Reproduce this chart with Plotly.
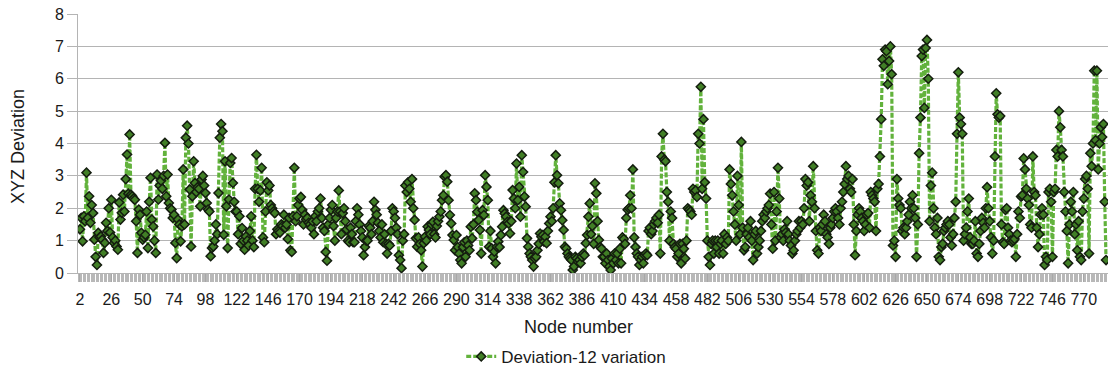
import plotly.graph_objects as go

# ---- data (XYZ deviation per node) ----
first_node = 2

dev_002_025 = [1.35, 1.7, 0.98, 1.75, 1.6, 3.1, 1.7, 2.37, 1.55, 2.1, 1.85, 1.03,
               0.5, 0.25, 1.24, 1.1, 1.13, 1.03, 0.62, 0.93, 1.55, 1.3, 2.0, 1.25]
dev_026_049 = [2.26, 1.1, 0.93, 1.0, 0.82, 0.72, 2.18, 1.65, 1.86, 2.42, 1.9, 2.9,
               3.66, 2.45, 4.28, 2.42, 2.37, 2.3, 2.26, 1.6, 0.62, 1.96, 1.8, 1.24]
dev_050_073 = [1.03, 1.1, 1.18, 1.9, 0.77, 2.2, 2.94, 1.65, 1.44, 1.0, 0.62, 3.04,
               2.27, 2.7, 2.85, 2.6, 3.0, 4.02, 2.37, 3.04, 2.16, 2.0, 1.96, 1.7]
dev_074_097 = [1.8, 0.93, 0.46, 1.65, 1.5, 0.98, 1.44, 3.2, 1.5, 4.18, 4.55, 4.0,
               2.58, 0.82, 2.37, 3.45, 2.78, 2.5, 2.65, 2.6, 2.06, 2.89, 3.0, 2.7]
dev_098_121 = [2.47, 2.16, 1.96, 1.9, 0.52, 0.77, 0.82, 1.0, 1.5, 1.2, 2.47, 4.18,
               4.6, 4.38, 1.18, 3.45, 2.06, 0.77, 2.27, 3.4, 3.55, 2.78, 2.2, 1.9]
dev_122_145 = [1.9, 1.2, 1.75, 0.9, 1.39, 1.0, 0.72, 1.13, 1.0, 0.85, 1.3, 1.75,
               1.0, 0.8, 2.6, 3.65, 2.6, 2.2, 2.55, 3.25, 1.1, 0.95, 1.9, 2.8]
dev_146_169 = [2.55, 2.7, 2.1, 2.0, 1.9, 1.85, 1.2, 1.35, 1.3, 1.25, 1.5, 1.45,
               1.8, 1.4, 1.5, 1.05, 1.7, 0.7, 0.65, 1.75, 3.25, 1.6, 1.75, 2.1]
dev_170_193 = [2.3, 2.35, 1.95, 1.5, 1.8, 1.65, 1.7, 1.55, 1.5, 1.4, 1.6, 1.2,
               1.75, 1.6, 1.9, 2.0, 2.3, 1.7, 1.4, 1.3, 0.65, 0.38, 1.5, 1.7]
dev_194_217 = [1.95, 2.1, 1.45, 1.0, 1.7, 1.9, 2.55, 1.9, 1.2, 1.85, 2.0, 1.6,
               1.35, 1.0, 0.95, 1.4, 1.2, 0.95, 0.95, 1.6, 2.0, 1.8, 1.5, 1.3]
dev_218_241 = [1.1, 0.55, 0.8, 1.0, 1.0, 1.45, 1.4, 1.2, 1.6, 2.2, 1.95, 1.8,
               1.55, 1.3, 1.1, 1.5, 0.95, 1.2, 0.9, 0.6, 0.9, 0.85, 1.3, 2.0]
dev_242_265 = [1.9, 1.7, 1.4, 1.2, 0.55, 0.4, 0.15, 1.0, 1.2, 2.7, 2.5, 2.8,
               2.6, 2.2, 2.9, 2.0, 1.64, 1.07, 0.81, 1.1, 0.9, 0.7, 0.2, 0.92]
dev_266_289 = [1.12, 1.0, 1.43, 1.33, 1.2, 1.5, 1.58, 1.2, 1.1, 1.45, 1.6, 1.74,
               1.9, 2.25, 2.4, 2.97, 3.02, 2.82, 2.25, 1.79, 1.53, 1.17, 1.02, 0.7]
dev_290_313 = [1.17, 0.8, 0.6, 0.4, 0.3, 0.8, 0.95, 0.5, 1.0, 0.85, 0.7, 1.43,
               1.07, 1.5, 2.46, 2.25, 1.89, 1.64, 1.33, 0.6, 1.94, 1.79, 3.02, 2.66]
dev_314_337 = [2.25, 0.81, 1.3, 0.76, 0.5, 0.66, 0.3, 0.81, 0.97, 0.8, 1.17, 1.43,
               1.94, 1.84, 1.74, 1.58, 1.53, 1.22, 1.6, 2.56, 2.3, 2.0, 3.38, 2.25]
dev_338_361 = [2.66, 1.74, 3.64, 3.12, 2.36, 2.05, 1.07, 0.81, 0.6, 0.5, 0.4, 0.2,
               0.45, 0.5, 0.7, 0.9, 1.22, 1.12, 1.17, 0.97, 1.12, 0.92, 1.3, 1.53]
dev_362_385 = [1.74, 1.6, 2.0, 2.8, 3.64, 3.02, 2.77, 2.15, 1.94, 1.63, 1.33, 0.81,
               0.76, 0.6, 0.5, 0.45, 0.4, 0.09, 0.2, 0.5, 0.45, 0.35, 0.4, 0.3]
dev_386_409 = [0.5, 0.6, 0.55, 0.92, 1.17, 1.74, 2.15, 1.2, 1.45, 0.9, 2.77, 2.46,
               1.6, 1.02, 0.8, 0.75, 0.5, 0.5, 0.3, 0.6, 0.4, 0.2, 0.09, 0.45]
dev_410_433 = [0.3, 0.6, 0.4, 0.6, 0.3, 0.75, 0.3, 1.1, 1.05, 0.9, 1.7, 1.95,
               2.0, 2.4, 2.0, 3.2, 1.1, 0.8, 0.6, 0.5, 0.25, 0.4, 0.5, 0.3]
dev_434_457 = [0.55, 0.6, 0.55, 1.3, 1.4, 1.2, 1.3, 1.5, 1.6, 1.7, 1.55, 1.8,
               0.6, 3.6, 4.3, 3.5, 3.45, 2.5, 2.2, 1.0, 1.9, 1.7, 0.9, 0.8]
dev_458_481 = [0.75, 0.5, 0.6, 0.9, 0.3, 0.9, 0.75, 0.45, 1.0, 2.0, 1.95, 1.9,
               1.8, 2.6, 2.5, 2.55, 2.35, 4.3, 4.0, 5.75, 2.6, 4.75, 2.8, 2.3]
dev_482_505 = [1.0, 0.5, 0.25, 0.9, 1.0, 0.6, 1.0, 0.8, 1.0, 0.6, 0.9, 1.0,
               0.6, 1.2, 0.9, 1.1, 1.0, 3.2, 2.75, 2.4, 1.9, 1.5, 1.0, 3.0]
dev_506_529 = [2.1, 1.2, 4.05, 1.4, 0.7, 0.8, 1.2, 1.4, 1.1, 1.6, 1.0, 0.4,
               1.2, 1.3, 0.6, 0.8, 1.0, 1.3, 1.6, 1.8, 1.7, 1.9, 2.0, 2.1]
dev_530_553 = [2.45, 1.5, 0.75, 2.5, 1.0, 1.9, 3.25, 2.3, 1.1, 1.2, 1.0, 1.35,
               1.25, 1.6, 1.2, 1.0, 0.85, 0.6, 0.7, 1.0, 1.2, 1.3, 1.6, 1.4]
dev_554_577 = [1.6, 1.5, 2.0, 2.9, 2.7, 2.8, 1.6, 2.4, 2.2, 3.3, 2.0, 1.3,
               0.7, 0.6, 1.4, 1.3, 1.5, 1.8, 1.6, 1.2, 1.1, 0.9, 1.4, 1.5]
dev_578_601 = [1.7, 1.9, 2.0, 1.9, 1.7, 1.5, 2.0, 2.2, 2.5, 2.75, 3.3, 2.9,
               3.0, 2.6, 2.5, 2.9, 1.5, 0.55, 1.3, 1.8, 2.0, 1.9, 1.7, 1.6]
dev_602_625 = [1.3, 1.5, 1.8, 1.85, 1.4, 2.5, 2.4, 2.3, 2.2, 1.3, 2.6, 2.75,
               3.6, 4.75, 6.6, 6.4, 6.9, 6.85, 5.83, 6.55, 7.0, 6.14, 0.85, 1.0]
dev_626_649 = [0.5, 2.9, 2.3, 2.1, 2.0, 1.3, 1.4, 1.2, 1.4, 1.6, 1.8, 2.2,
               2.0, 2.4, 2.0, 1.7, 0.5, 1.5, 3.7, 4.8, 6.7, 6.9, 5.1, 6.95]
dev_650_673 = [7.2, 6.0, 1.6, 2.7, 3.1, 2.0, 1.4, 1.2, 1.7, 0.5, 0.4, 0.8,
               0.9, 1.3, 1.4, 1.5, 1.6, 1.5, 1.1, 0.85, 1.2, 1.7, 2.2, 4.3]
dev_674_697 = [6.2, 4.8, 4.6, 4.3, 1.0, 1.2, 1.4, 1.9, 2.3, 1.1, 0.9, 0.9,
               1.0, 1.6, 0.6, 0.5, 0.9, 1.3, 1.7, 1.55, 1.4, 2.0, 2.65, 2.0]
dev_698_721 = [1.6, 1.1, 0.6, 1.0, 3.6, 5.55, 4.9, 4.8, 4.85, 1.5, 0.95, 0.9,
               1.95, 2.0, 1.4, 1.2, 1.0, 0.95, 1.0, 1.05, 0.5, 1.2, 1.9, 1.7]
dev_722_745 = [2.36, 2.4, 3.54, 3.2, 2.6, 2.3, 2.1, 1.5, 1.4, 3.6, 2.5, 2.4,
               1.4, 0.8, 1.2, 1.8, 2.0, 1.8, 0.25, 0.5, 0.4, 2.5, 2.6, 2.2]
dev_746_769 = [0.5, 2.5, 2.6, 3.8, 3.6, 5.0, 4.5, 3.8, 3.6, 2.5, 1.9, 1.3,
               0.3, 1.5, 2.2, 1.9, 2.5, 1.2, 1.5, 0.7, 1.6, 0.5, 0.4, 1.9]
dev_770_787 = [2.3, 2.9, 3.0, 2.6, 0.6, 3.7, 3.3, 4.0, 6.25, 4.1, 6.25, 3.2,
               4.0, 4.5, 4.2, 4.6, 2.2, 0.4]

deviation = (dev_002_025 + dev_026_049 + dev_050_073 + dev_074_097 + dev_098_121
             + dev_122_145 + dev_146_169 + dev_170_193 + dev_194_217 + dev_218_241
             + dev_242_265 + dev_266_289 + dev_290_313 + dev_314_337 + dev_338_361
             + dev_362_385 + dev_386_409 + dev_410_433 + dev_434_457 + dev_458_481
             + dev_482_505 + dev_506_529 + dev_530_553 + dev_554_577 + dev_578_601
             + dev_602_625 + dev_626_649 + dev_650_673 + dev_674_697 + dev_698_721
             + dev_722_745 + dev_746_769 + dev_770_787)
nodes = list(range(first_node, first_node + len(deviation)))

tick_nodes = [2, 26, 50, 74, 98, 122, 146, 170, 194, 218, 242, 266, 290, 314, 338,
              362, 386, 410, 434, 458, 482, 506, 530, 554, 578, 602, 626, 650, 674,
              698, 722, 746, 770]
tick_labels = [str(n) for n in tick_nodes]

series_name = "Deviation-12 variation"
x_title = "Node number"
y_title = "XYZ Deviation"

FONT = "Liberation Sans, Arial, sans-serif"
GRID = "#b4b4b4"

fig = go.Figure()
fig.add_trace(go.Scatter(
    x=nodes, y=deviation, mode="lines+markers", name=series_name,
    line=dict(color="#62b23c", width=3.2, dash="5px,2px"),
    marker=dict(symbol="diamond", size=7, color="#417f26",
                line=dict(color="#141d0f", width=1.5)),
))

fig.update_layout(
    width=1108, height=374,
    margin=dict(l=78, r=0, t=14, b=101, autoexpand=False),
    paper_bgcolor="white", plot_bgcolor="white",
    font=dict(family=FONT, color="#1a1a1a", size=16),
    showlegend=True,
    legend=dict(orientation="h", x=0.474, xanchor="center", y=-0.324,
                yanchor="middle", font=dict(size=17, family=FONT),
                itemwidth=30, bgcolor="rgba(0,0,0,0)"),
    xaxis=dict(
        range=[0.5, 788.5], tickmode="array", tickvals=tick_nodes,
        ticktext=tick_labels, ticks="outside", ticklen=8, tickcolor="#a8a8a8",
        tickwidth=1, tickfont=dict(size=16, family=FONT, color="#1a1a1a"),
        showgrid=False, zeroline=False, showline=True, linecolor=GRID,
        linewidth=1, ticklabelstandoff=4,
        minor=dict(ticks="outside", dtick=1, tick0=0.5, ticklen=8,
                   tickcolor="#b8b8b8", tickwidth=1, showgrid=False),
    ),
    yaxis=dict(
        range=[0, 8], dtick=1, tick0=0, ticks="outside", ticklen=10,
        tickcolor=GRID, tickfont=dict(size=16, family=FONT, color="#1a1a1a"),
        showgrid=True, gridcolor=GRID, gridwidth=1, zeroline=False,
        showline=True, linecolor=GRID, linewidth=1,
    ),
    annotations=[
        dict(text=y_title, xref="paper", yref="paper", x=-0.0583, y=0.49,
             textangle=-90, showarrow=False, xanchor="center", yanchor="middle",
             font=dict(size=18, family=FONT, color="#1a1a1a")),
        dict(text=x_title, xref="paper", yref="paper", x=0.486, y=-0.2085,
             showarrow=False, xanchor="center", yanchor="middle",
             font=dict(size=18, family=FONT, color="#1a1a1a")),
    ],
)

fig.write_html("out.html",
               config={"displayModeBar": False},
               post_script="document.body.style.margin='0px';"
                           "document.body.style.overflow='hidden';")
